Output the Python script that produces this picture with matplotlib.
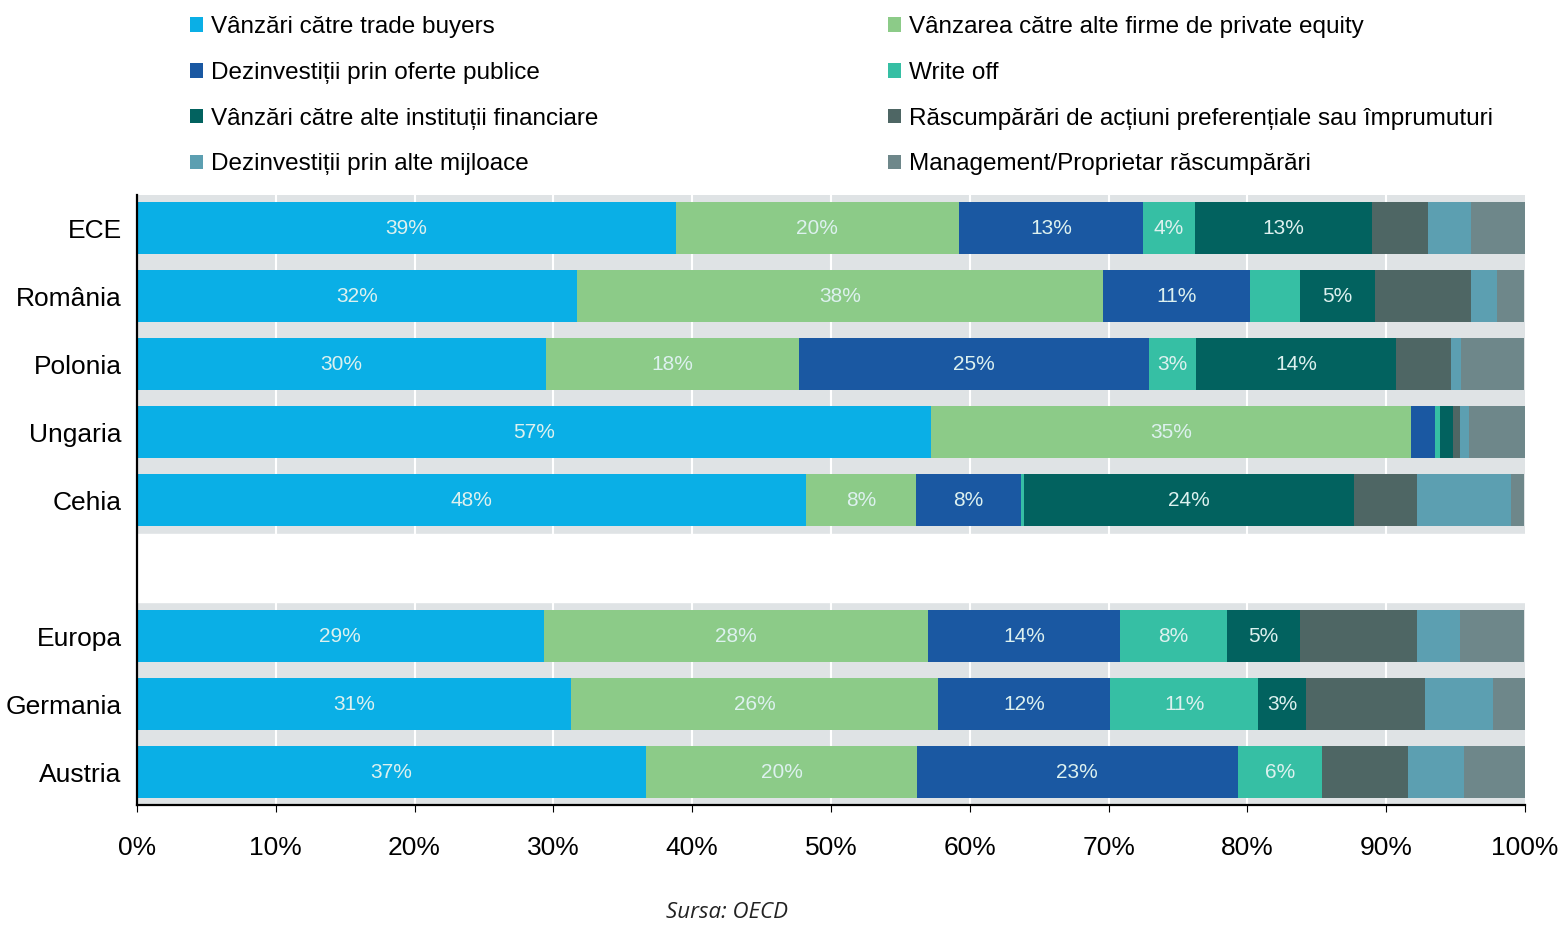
import matplotlib
matplotlib.use("Agg")
from matplotlib import pyplot as plt
from matplotlib.patches import Patch
import numpy as np

plt.rcParams['font.family'] = ['Liberation Sans', 'DejaVu Sans']

categories = ['ECE', 'România', 'Polonia', 'Ungaria', 'Cehia', 'Europa', 'Germania', 'Austria']
positions = [0, 1, 2, 3, 4, 6, 7, 8]

series_names = [
    'Vânzări către trade buyers',
    'Vânzarea către alte firme de private equity',
    'Dezinvestiții prin oferte publice',
    'Write off',
    'Vânzări către alte instituții financiare',
    'Răscumpărări de acțiuni preferențiale sau împrumuturi',
    'Dezinvestiții prin alte mijloace',
    'Management/Proprietar răscumpărări',
]
colors = ['#0AAFE6', '#8CCB88', '#1A58A2', '#36BFA4', '#02625F', '#4E6664', '#5C9FB1', '#6E878A']

# percentages per series, one value per category
trade_buyers = [38.8, 31.7, 29.5, 57.2, 48.2, 29.3, 31.3, 36.7]
private_equity = [20.4, 37.9, 18.2, 34.6, 7.9, 27.7, 26.4, 19.5]
public_offers = [13.3, 10.6, 25.2, 1.7, 7.6, 13.8, 12.4, 23.1]
write_off = [3.7, 3.6, 3.4, 0.4, 0.2, 7.7, 10.7, 6.1]
fin_institutions = [12.8, 5.4, 14.4, 0.9, 23.8, 5.3, 3.4, 0.0]
preferential = [4.0, 6.9, 4.0, 0.5, 4.5, 8.4, 8.6, 6.2]
other_means = [3.1, 1.9, 0.7, 0.7, 6.8, 3.1, 4.9, 4.0]
management = [4.0, 1.9, 4.5, 4.0, 0.9, 4.6, 2.3, 4.5]

data = [trade_buyers, private_equity, public_offers, write_off,
        fin_institutions, preferential, other_means, management]

# segments that carry no value label in the original
no_label = {('România', 3)}

fig = plt.figure(figsize=(15.58, 9.26), dpi=100)
ax = fig.add_axes([0.0879, 0.1307, 0.8909, 0.6583])

# grey background bands with white vertical grid
ax.barh(positions, 100, height=1.0, color='#DFE3E5', edgecolor='none', zorder=0.5)
ax.set_axisbelow(False)
for t in range(10, 100, 10):
    ax.axvline(t, color='white', lw=1.5, zorder=1)

left = np.zeros(len(categories))
for i, vals in enumerate(data):
    vals = np.array(vals)
    ax.barh(positions, vals, left=left, height=0.76, color=colors[i],
            edgecolor='none', zorder=2)
    if i < 5:
        for j, v in enumerate(vals):
            if v >= 2.9 and (categories[j], i) not in no_label:
                ax.text(left[j] + v / 2, positions[j], '%d%%' % round(v),
                        ha='center', va='center', color='#DDF1EF',
                        fontsize=15, zorder=3)
    left += vals

# white gap between the two groups hides the grid there
ax.axhspan(4.5, 5.5, color='white', zorder=1.5)

ax.set_xlim(0, 100)
ax.set_ylim(8.48, -0.48)
ax.set_yticks(positions)
ax.set_yticklabels(categories, fontsize=19)
ax.set_xticks(np.arange(0, 101, 10))
ax.set_xticklabels(['%d%%' % t for t in range(0, 101, 10)], fontsize=19)
ax.tick_params(axis='y', length=0, pad=11)
ax.tick_params(axis='x', length=5, direction='out', pad=17)
for s in ['top', 'right']:
    ax.spines[s].set_visible(False)
ax.spines['left'].set_linewidth(1.6)
ax.spines['bottom'].set_linewidth(1.6)
ax.spines['left'].set_zorder(4)
ax.spines['bottom'].set_zorder(4)

handles = [Patch(facecolor=c, edgecolor='none') for c in colors]
leg_kw = dict(frameon=False, fontsize=17.5, handlelength=0.55, handleheight=0.55,
              handletextpad=0.3, labelspacing=0.98, borderpad=0, borderaxespad=0)
leg1 = fig.legend([handles[k] for k in (0, 2, 4, 6)],
                  [series_names[k] for k in (0, 2, 4, 6)],
                  loc='upper left', bbox_to_anchor=(190 / 1558, 1 - 16 / 926), **leg_kw)
leg2 = fig.legend([handles[k] for k in (1, 3, 5, 7)],
                  [series_names[k] for k in (1, 3, 5, 7)],
                  loc='upper left', bbox_to_anchor=(888 / 1558, 1 - 16 / 926), **leg_kw)

fig.text(727 / 1558, 3 / 926, 'Sursa: OECD', ha='center', va='bottom',
         fontsize=16, style='italic', family=['Open Sans', 'DejaVu Sans'], color='#222222')

fig.savefig('out.png', dpi=100, facecolor='white')
